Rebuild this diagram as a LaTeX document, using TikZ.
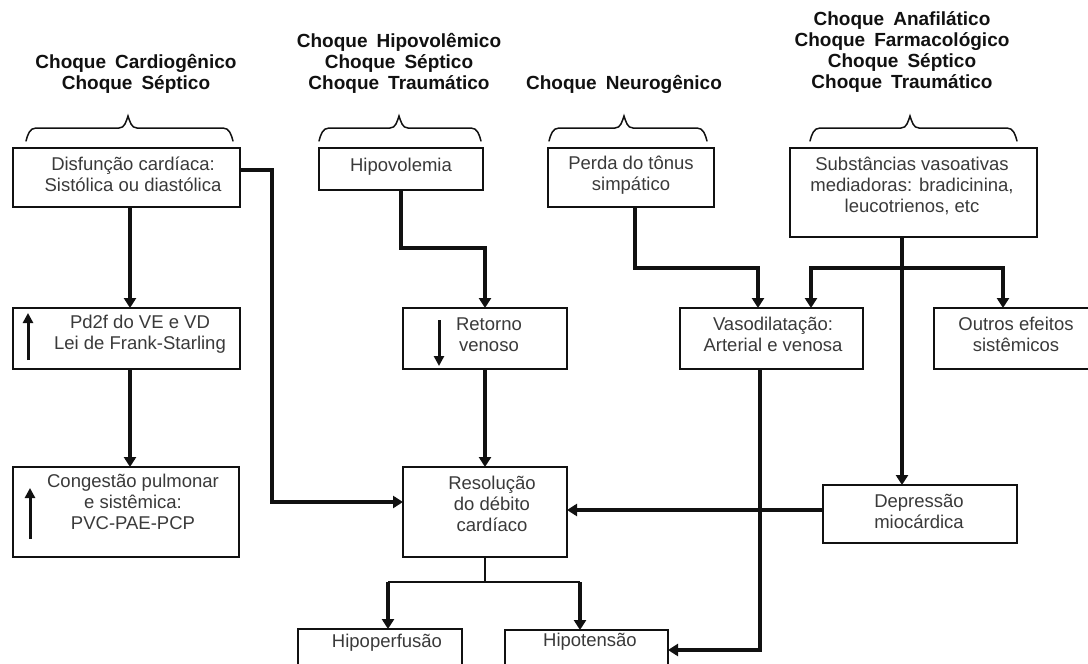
\documentclass[tikz,border=0pt]{standalone}
\usepackage{fontspec}
\setmainfont{Liberation Sans}
\usetikzlibrary{arrows.meta}
\definecolor{ink}{HTML}{111111}
\definecolor{txtgray}{HTML}{3A3A3A}
\newcommand\widewords{\spaceskip=9pt plus 1pt minus 1pt\relax}
\tikzset{
  box/.style={draw=ink, line width=1.8pt, inner sep=0pt, outer sep=0pt, fill=white},
  txt/.style={font=\fontsize{18.5}{21}\selectfont, text=txtgray, align=center, inner sep=0pt},
  head/.style={font=\fontsize{19}{21}\selectfont\bfseries\widewords, text=ink, align=center, inner sep=0pt},
  flow/.style={draw=ink, line width=3.6pt, -{Triangle[width=12pt,length=10pt]}},
  fork/.style={draw=ink, line width=1.8pt},
  stem/.style={draw=ink, line width=1.3pt},
  trend/.style={draw=ink, line width=3pt, -{Triangle[width=10pt,length=10pt]}},
  brace/.style={draw=ink, line width=1.5pt, line cap=round}
}
% curly brace above a box: left end, peak, right end
\newcommand\groupbrace[3]{%
  \draw[brace] (#1,141) to[out=75,in=180] (#1+10,128) -- (#2-9,128)
    to[out=0,in=-110] (#2,116) to[out=-70,in=180] (#2+9,128) -- (#3-10,128)
    to[out=0,in=105] (#3,141);}
\begin{document}
\begin{tikzpicture}[x=1pt, y=-1pt]
\useasboundingbox (0,0) rectangle (1088,664);
\fill[white] (0,0) rectangle (1088,664);
\clip (0,0) rectangle (1088,664);

% shock types
\node[head] (h1) at (136,73.5) {Choque Cardiogênico\\Choque Séptico};
\node[head] (h2) at (399,63) {Choque Hipovolêmico\\Choque Séptico\\Choque Traumático};
\node[head] (h3) at (624,84) {Choque Neurogênico};
\node[head] (h4) at (902,52.5) {Choque Anafilático\\Choque Farmacológico\\Choque Séptico\\Choque Traumático};

\groupbrace{26}{128}{233}
\groupbrace{319}{399}{481}
\groupbrace{549}{624}{707}
\groupbrace{810}{910}{1017}

% boxes
\node[box, minimum width=227pt, minimum height=59pt] (A) at (126.5,177.5) {};
\node[box, minimum width=164pt, minimum height=42pt] (B) at (401,169) {};
\node[box, minimum width=166pt, minimum height=59pt] (C) at (631,177.5) {};
\node[box, minimum width=247pt, minimum height=89pt] (D) at (913.5,192.5) {};
\node[box, minimum width=227pt, minimum height=61pt] (E) at (126.5,338.5) {};
\node[box, minimum width=164pt, minimum height=61pt] (F) at (485,338.5) {};
\node[box, minimum width=183pt, minimum height=61pt] (G) at (771.5,338.5) {};
\node[box, minimum width=164pt, minimum height=61pt] (H) at (1016,338.5) {};
\node[box, minimum width=226pt, minimum height=90pt] (I) at (126,512) {};
\node[box, minimum width=164pt, minimum height=90pt] (J) at (485,512) {};
\node[box, minimum width=194pt, minimum height=58pt] (K) at (920,514) {};
\node[box, minimum width=164pt, minimum height=61pt] (L) at (380,659.5) {};
\node[box, minimum width=163pt, minimum height=61pt] (M) at (586.5,660.5) {};

% box texts
\node[txt] (At) at (133,174) {Disfunção cardíaca:\\Sistólica ou diastólica};
\node[txt] (Bt) at (401,167) {Hipovolemia};
\node[txt] (Ct) at (631,175) {Perda do tônus\\simpático};
\node[txt] (Dt) at (912,185.5) {Substâncias vasoativas\\mediadoras: bradicinina,\\leucotrienos, etc};
\node[txt] (Et) at (140,334.5) {Pd2f do VE e VD\\Lei de Frank-Starling};
\node[txt] (Ft) at (489,334.5) {Retorno\\venoso};
\node[txt] (Gt) at (773,334.5) {Vasodilatação:\\Arterial e venosa};
\node[txt] (Ht) at (1016,334.5) {Outros efeitos\\sistêmicos};
\node[txt] (It) at (133,502) {Congestão pulmonar\\e sistêmica:\\PVC-PAE-PCP};
\node[txt] (Jt) at (492,504) {Resolução\\do débito\\cardíaco};
\node[txt] (Kt) at (919,511) {Depressão\\miocárdica};
\node[txt] (Lt) at (387,643) {Hipoperfusão};
\node[txt] (Mt) at (590,642) {Hipotensão};

% increase / decrease marks inside boxes
\draw[trend] (28,360) -- (28,313);
\draw[trend] (30,539) -- (30,488);
\draw[trend] (439,320) -- (439,366);

% connectors
\draw[flow] ([xshift=3.5pt]A.south) -- ([xshift=3.5pt]E.north);
\draw[flow] ([xshift=3.5pt]E.south) -- ([xshift=4pt]I.north);
\draw[flow] ([yshift=7.5pt]A.east) -- ++(32,0) |- ([yshift=10pt]J.west);
\draw[flow] (B.south) -- ++(0,58) -| (F.north);
\draw[flow] (F.south) -- (J.north);
\draw[flow] ([xshift=4pt]C.south) -- ++(0,61) -| ([xshift=-13.5pt]G.north);
\draw[flow] ([xshift=-11.5pt]D.south) -- ([xshift=-18pt]K.north);
\coordinate (split) at (902,268);
\draw[flow] (split) -| ([xshift=39.5pt]G.north);
\draw[flow] (split) -| ([xshift=-13pt]H.north);
\draw[flow] ([xshift=-11.5pt]G.south) |- ([yshift=10.5pt]M.east);
\draw[flow] ([yshift=4pt]K.west) -- ([yshift=2pt]J.east);
\coordinate (fork) at (485,582);
\coordinate (forkL) at (388,582);
\coordinate (forkR) at (580,582);
\draw[stem] (J.south) -- (fork);
\draw[fork] (forkL) -- (forkR);
\draw[flow] (forkL) -- ([xshift=8pt]L.north);
\draw[flow] (forkR) -- ([xshift=-6.5pt]M.north);
\end{tikzpicture}
\end{document}
